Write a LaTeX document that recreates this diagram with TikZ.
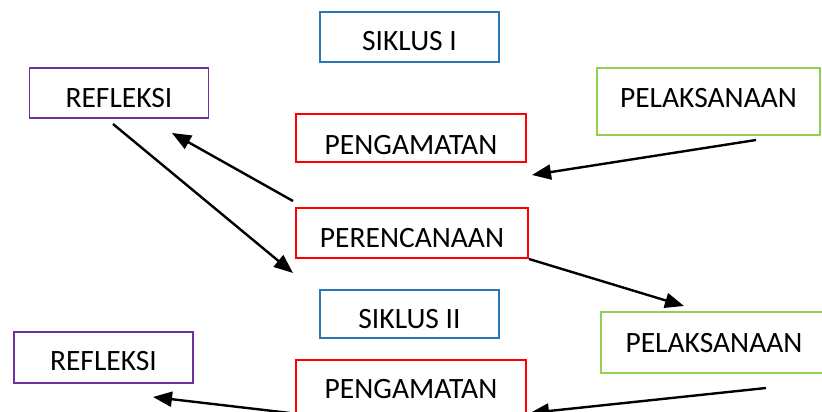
\documentclass[tikz,border=0pt]{standalone}
\usepackage{fontspec}
\setmainfont{Carlito}
\usetikzlibrary{arrows.meta}
\definecolor{cblue}{HTML}{2E75B6}
\definecolor{cpurple}{HTML}{7030A0}
\definecolor{cgreen}{HTML}{92D050}
\definecolor{cred}{HTML}{FF0000}
\begin{document}
\begin{tikzpicture}[x=1pt,y=-1pt,
  box/.style={draw, line width=1.6pt, inner sep=0pt, text depth=0pt,
    font=\fontsize{29.5}{31}\selectfont, anchor=center},
  arr/.style={-{Triangle[length=19pt,width=15pt]}, line width=2.4pt, black}]
\useasboundingbox (0,0) rectangle (822,412);
\clip (0,0) rectangle (822,412);
% boxes
\node[box, draw=cblue, minimum width=179pt, minimum height=50.5pt, text height=28pt] (s1) at (409.5,37) {SIKLUS I};
\node[box, draw=cpurple, minimum width=179pt, minimum height=50.5pt, text height=28pt] (r1) at (119,93) {REFLEKSI};
\node[box, draw=cgreen, minimum width=223pt, minimum height=67pt, text height=11pt] (p1) at (708.5,101.5) {PELAKSANAAN};
\node[box, draw=cred, minimum width=230pt, minimum height=48pt, text height=32pt] (g1) at (411,138) {PENGAMATAN};
\node[box, draw=cred, minimum width=232pt, minimum height=50.5pt, text height=28pt] (pr) at (412,233) {PERENCANAAN};
\node[box, draw=cblue, minimum width=179pt, minimum height=48.5pt, text height=29pt] (s2) at (409.5,314) {SIKLUS II};
\node[box, draw=cgreen, minimum width=226pt, minimum height=61.5pt, text height=19pt] (p2) at (714,342.5) {PELAKSANAAN};
\node[box, draw=cpurple, minimum width=179pt, minimum height=51.5pt, text height=25pt] (r2) at (103.5,357.5) {REFLEKSI};
\node[box, draw=cred, minimum width=230pt, minimum height=58pt, text height=19pt] (g2) at (411,389) {PENGAMATAN};
% arrow end points
\coordinate (a1s) at (113,124);
\coordinate (a1e) at (293,273);
\coordinate (a2s) at (293,201);
\coordinate (a2e) at (172,133);
\coordinate (a3s) at (756,140);
\coordinate (a3e) at (532,175);
\coordinate (a4s) at (529,259);
\coordinate (a4e) at (684,306);
\coordinate (a5s) at (766,388);
\coordinate (a5e) at (530,413);
\coordinate (a6s) at (290,413);
\coordinate (a6e) at (153,397);
% arrows
\draw[arr] (a1s) -- (a1e);
\draw[arr] (a2s) -- (a2e);
\draw[arr] (a3s) -- (a3e);
\draw[arr] (a4s) -- (a4e);
\draw[arr] (a5s) -- (a5e);
\draw[arr] (a6s) -- (a6e);
\end{tikzpicture}
\end{document}
